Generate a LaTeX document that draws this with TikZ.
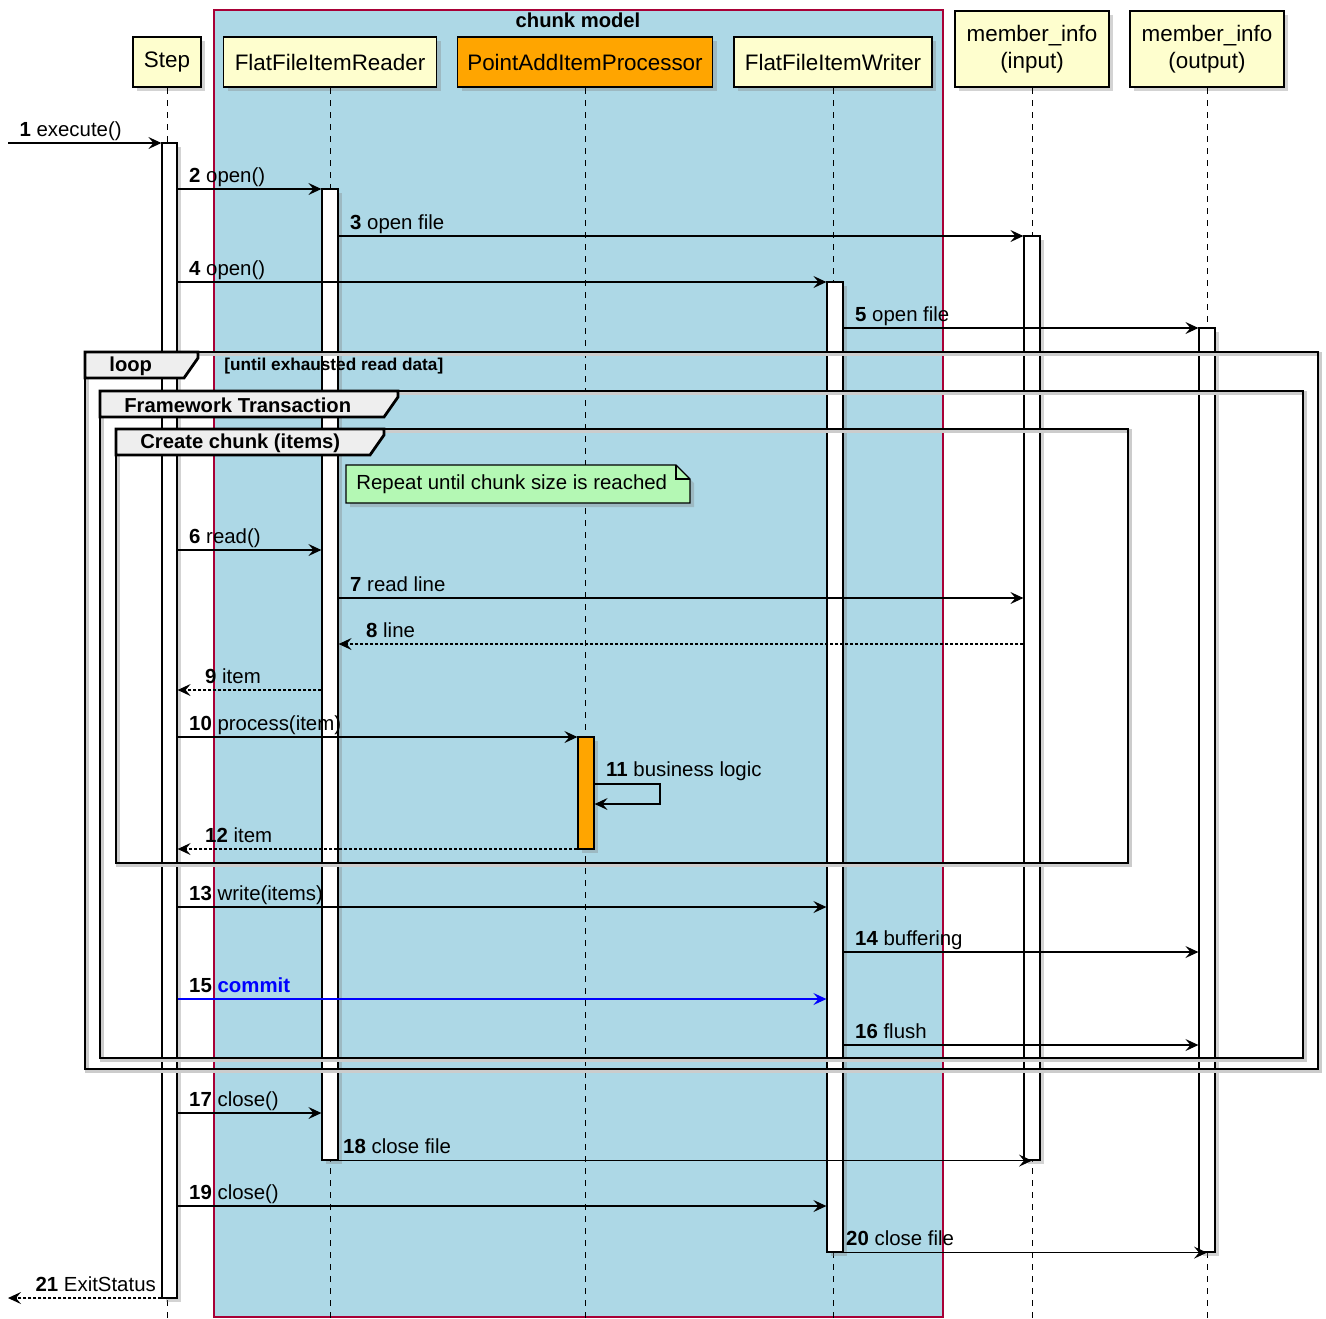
\documentclass[tikz,border=0pt]{standalone}
\usepackage{fontspec}
\setmainfont{Liberation Sans}
\usetikzlibrary{arrows.meta,fit,shadows}
\definecolor{partfill}{HTML}{FEFECE}
\definecolor{boxblue}{HTML}{ADD8E6}
\definecolor{boxline}{HTML}{A80036}
\definecolor{notegreen}{HTML}{B4F8B4}
\definecolor{tabgray}{HTML}{EEEEEE}
\definecolor{procorange}{HTML}{FFA500}
\tikzset{
  shade/.style={drop shadow={opacity=0.35, shadow xshift=2pt, shadow yshift=-2pt}},
  part/.style={draw=black, line width=0.8pt, fill=partfill, shade, anchor=south, align=center, inner sep=0pt, font=\fontsize{11.2}{13.5}\selectfont},
  actbar/.style={draw=black, line width=0.6pt, fill=white, inner sep=0pt, shade},
  lifeline/.style={line width=0.5pt, dash pattern=on 3pt off 3pt},
  msg/.style={-{Stealth[length=6.5pt, width=6pt, inset=2.5pt]}, line width=0.6pt},
  ret/.style={msg, dash pattern=on 1.5pt off 1pt},
  lbl/.style={anchor=base west, inner sep=0pt, xshift=5.5pt, yshift=3.5pt, font=\fontsize{10.2}{12}\selectfont},
  rlbl/.style={lbl, xshift=8pt},
  grp/.style={line width=1.4pt, preaction={draw=black!20, line width=2pt, transform canvas={xshift=1.2pt, yshift=-1.2pt}}},
  grptab/.style={line width=1.4pt, fill=tabgray},
  grplbl/.style={anchor=west, inner sep=0pt, font=\bfseries\fontsize{10.1}{12}\selectfont},
  note/.style={draw=black, line width=0.6pt, fill=notegreen, shade}
}
\begin{document}
\begin{tikzpicture}[x=0.5pt, y=-0.5pt]
\useasboundingbox (0,0) rectangle (1326,1318);
\draw[fill=boxblue, draw=boxline, line width=0.6pt] (214,10) rectangle (943,1317);
\node[font=\bfseries\fontsize{10.1}{12}\selectfont] (chunkmodel) at (578,20) {chunk model};
\node[part, minimum width=34pt, minimum height=25pt] (step) at (167,88) {Step};
\node[part, minimum width=106.5pt, minimum height=25pt] (reader) at (330,88) {FlatFileItemReader};
\node[part, minimum width=127.5pt, minimum height=25pt, fill=procorange] (proc) at (585,88) {PointAddItemProcessor};
\node[part, minimum width=99pt, minimum height=25pt] (writer) at (833,88) {FlatFileItemWriter};
\node[part, minimum width=77pt, minimum height=38pt] (minput) at (1032,88) {member\_info\\(input)};
\node[part, minimum width=77pt, minimum height=38pt] (moutput) at (1207,88) {member\_info\\(output)};
\foreach \p in {step,reader,proc,writer,minput,moutput}
  \draw[lifeline] (\p.south) -- (\p.south |- 0,1318);
\node[actbar, fit={(162,143) (177,1298)}] (stepA) {};
\node[actbar, fit={(322,189) (338,1160)}] (readerA) {};
\node[actbar, fit={(578,737) (594,849)}, fill=procorange] (procA) {};
\node[actbar, fit={(827,282) (843,1252)}] (writerA) {};
\node[actbar, fit={(1024,236) (1040,1160)}] (inA) {};
\node[actbar, fit={(1199,328) (1215,1252)}] (outA) {};
\foreach \fx/\fy/\fxx/\fyy/\tx/\fn/\ft in {85/352/1318/1069/198/loop/loop, 100/391/1303/1058/398/ftx/Framework Transaction, 116/429/1128/863/384/chunk/Create chunk (items)} {
  \draw[grp] (\fx,\fy) rectangle (\fxx,\fyy);
  \draw[grptab] (\fx,\fy) -- (\tx,\fy) -- (\tx,\fy+6) -- (\tx-14,\fy+26) -- (\fx,\fy+26) -- cycle;
  \node[grplbl] (\fn) at (\fx+24,\fy+14) {\ft};
}
\node[anchor=west, inner sep=0pt, font=\bfseries\fontsize{8.6}{10}\selectfont] (until) at (224,366) {[until exhausted read data]};
\draw[note] (346,465) -- (676,465) -- (690,479) -- (690,503) -- (346,503) -- cycle;
\draw[line width=0.6pt] (676,465) -- (676,479) -- (690,479);
\node[anchor=west, inner sep=0pt, font=\fontsize{10.2}{12}\selectfont] (repeat) at (356,484) {Repeat until chunk size is reached};
\coordinate (entry) at (8,143);
\coordinate (exit) at (8,1298);
\coordinate (selfturn) at (660,784);
\draw[msg] (entry) -- (stepA.west |- entry) node[lbl, pos=0] {\textbf{1} execute()};
\foreach \a/\b/\y/\t in {stepA/readerA/189/{\textbf{2} open()}, readerA/inA/236/{\textbf{3} open file}, stepA/writerA/282/{\textbf{4} open()}, writerA/outA/328/{\textbf{5} open file}, stepA/readerA/550/{\textbf{6} read()}, readerA/inA/598/{\textbf{7} read line}, stepA/procA/737/{\textbf{10} process(item)}, stepA/writerA/907/{\textbf{13} write(items)}, writerA/outA/952/{\textbf{14} buffering}, writerA/outA/1045/{\textbf{16} flush}, stepA/readerA/1113/{\textbf{17} close()}, stepA/writerA/1206/{\textbf{19} close()}}
  \draw[msg] (\a.east |- 0,\y) -- (\b.west |- 0,\y) node[lbl, pos=0] {\t};
\draw[ret] (inA.west |- 0,644) -- (readerA.east |- 0,644) node[rlbl, pos=1] {\textbf{8} line};
\draw[ret] (readerA.west |- 0,690) -- (stepA.east |- 0,690) node[rlbl, pos=1] {\textbf{9} item};
\draw[msg] (procA.east |- selfturn) node[lbl, yshift=0.5pt] {\textbf{11} business logic} -- (selfturn) -- ++(0,20) -- (procA.east |- 0,804);
\draw[ret] (procA.west |- 0,849) -- (stepA.east |- 0,849) node[rlbl, pos=1] {\textbf{12} item};
\draw[msg, blue] (stepA.east |- 0,999) -- (writerA.west |- 0,999) node[lbl, pos=0, text=black] {\textbf{15} \textcolor{blue}{\textbf{commit}}};
\draw[msg] (readerA.south east) -- (inA.south) node[lbl, pos=0, xshift=-3.5pt] {\textbf{18} close file};
\draw[msg] (writerA.south east) -- (outA.south) node[lbl, pos=0, xshift=-4.5pt] {\textbf{20} close file};
\draw[ret] (stepA.west |- exit) -- (exit) node[rlbl, pos=1] {\textbf{21} ExitStatus};
\end{tikzpicture}
\end{document}
